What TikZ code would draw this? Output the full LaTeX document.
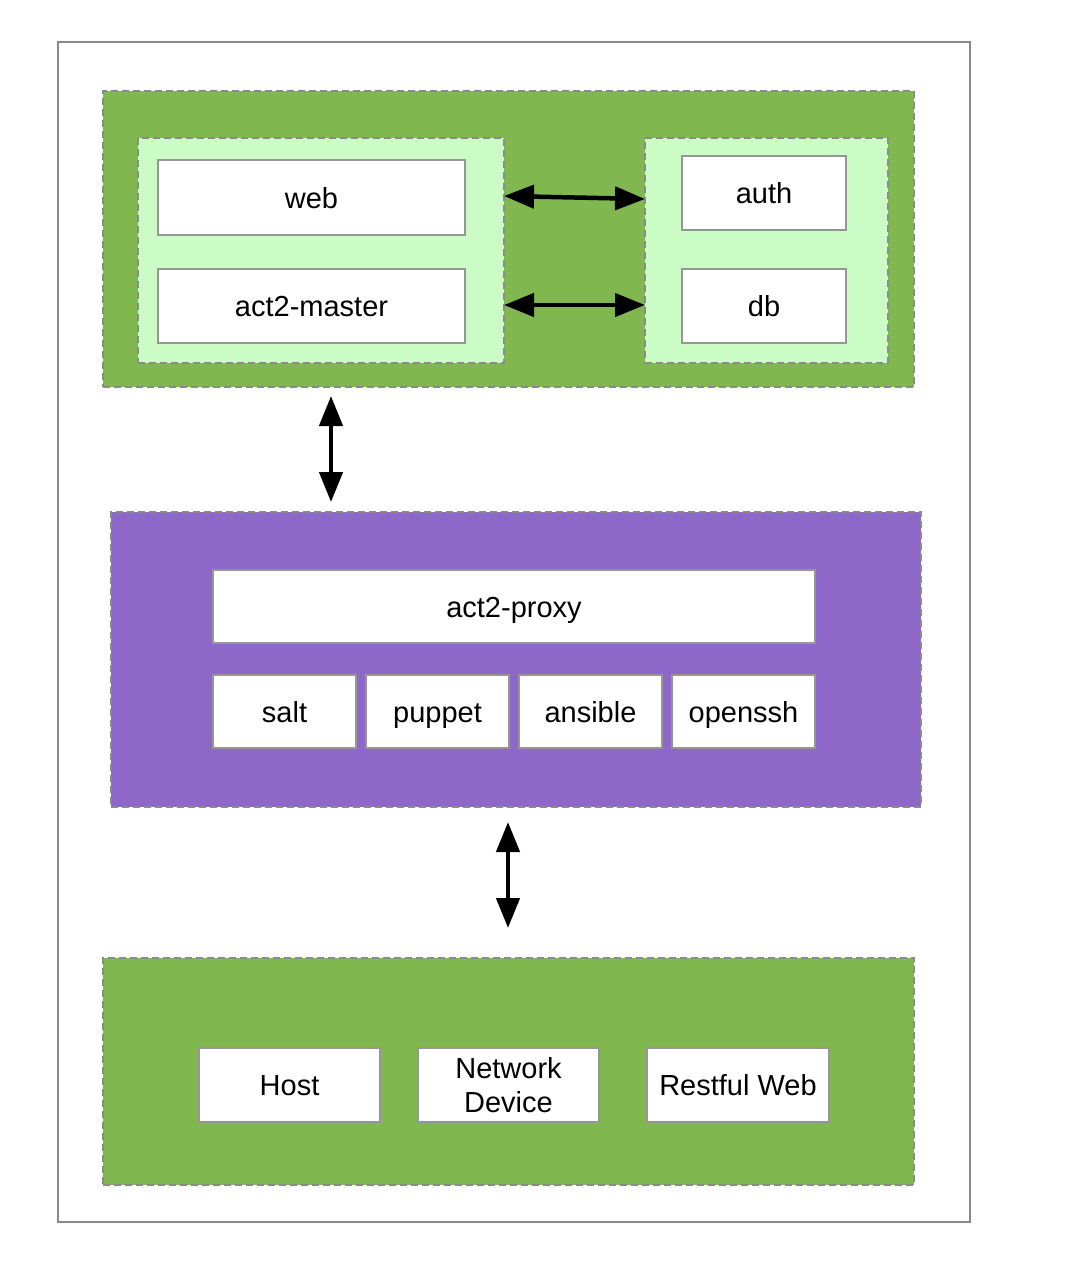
\documentclass[tikz,border=0pt]{standalone}
\usepackage{fontspec}
\setmainfont{Liberation Sans}
\usetikzlibrary{arrows.meta,calc}
\definecolor{dkgreen}{HTML}{80B84F}
\definecolor{ltgreen}{HTML}{CCFCC6}
\definecolor{violet}{HTML}{8D68C8}
\definecolor{edgegray}{HTML}{8A8A8A}
\begin{document}
\begin{tikzpicture}[x=1pt,y=-1pt,
  every node/.style={font=\fontsize{29}{34}\selectfont, inner sep=0pt, outer sep=0pt},
  group/.style={draw=edgegray, line width=1.5pt, dash pattern=on 7pt off 4pt, rectangle},
  box/.style={draw=edgegray!90, line width=1.8pt, fill=white, rectangle, align=center},
  onebox/.style={box, text height=21pt, text depth=0pt},
  dbl/.style={{Triangle[length=30pt,width=23pt]}-{Triangle[length=30pt,width=23pt]}, line width=4.5pt, black}
]
\useasboundingbox (0,0) rectangle (1082,1264);
\node[draw=edgegray, line width=1.8pt, fill=white, minimum width=912pt, minimum height=1180pt] (frame) at (514,632) {};

% top group
\node[group, fill=dkgreen, minimum width=811pt, minimum height=296pt] (topG) at (508.5,239) {};
\node[group, fill=ltgreen, minimum width=366pt, minimum height=225pt] (leftLG) at (321,250.5) {};
\node[group, fill=ltgreen, minimum width=243pt, minimum height=225pt] (rightLG) at (766.5,250.5) {};
\node[onebox, minimum width=307pt, minimum height=75pt] (web) at (311.5,197.5) {web};
\node[onebox, minimum width=307pt, minimum height=74pt] (master) at (311.5,306) {act2-master};
\node[onebox, minimum width=164pt, minimum height=74pt] (auth) at (764,193) {auth};
\node[onebox, minimum width=164pt, minimum height=74pt] (db) at (764,306) {db};

% middle group
\node[group, fill=violet, minimum width=810pt, minimum height=295pt] (proxyG) at (516,659.5) {};
\node[onebox, minimum width=602pt, minimum height=73pt] (proxy) at (514,606.5) {act2-proxy};
\node[onebox, minimum width=143pt, minimum height=73pt] (salt) at (284.5,711.5) {salt};
\node[onebox, minimum width=143pt, minimum height=73pt] (puppet) at (437.5,711.5) {puppet};
\node[onebox, minimum width=143pt, minimum height=73pt] (ansible) at (590.5,711.5) {ansible};
\node[onebox, minimum width=143pt, minimum height=73pt] (openssh) at (743.5,711.5) {openssh};

% bottom group
\node[group, fill=dkgreen, minimum width=811pt, minimum height=227pt] (botG) at (508.5,1071.5) {};
\node[onebox, minimum width=181pt, minimum height=74pt] (host) at (289.5,1085) {Host};
\node[box, minimum width=181pt, minimum height=74pt] (netdev) at (508.5,1085) {Network\\Device};
\node[onebox, minimum width=182pt, minimum height=74pt] (rest) at (738,1085) {Restful Web};

% connectors
\draw[dbl] ($(leftLG.east)+(0,-54.5)$) -- ($(rightLG.west)+(0,-51.5)$);
\draw[dbl] ($(leftLG.east)+(0,54.5)$) -- ($(rightLG.west)+(0,54.5)$);
\coordinate (c1) at (331,0);
\coordinate (c2) at (508,0);
\draw[dbl, shorten <=9pt, shorten >=10pt] (topG.south -| c1) -- (proxyG.north -| c1);
\draw[dbl, shorten <=15pt, shorten >=30pt] (proxyG.south -| c2) -- (botG.north -| c2);
\end{tikzpicture}
\end{document}
